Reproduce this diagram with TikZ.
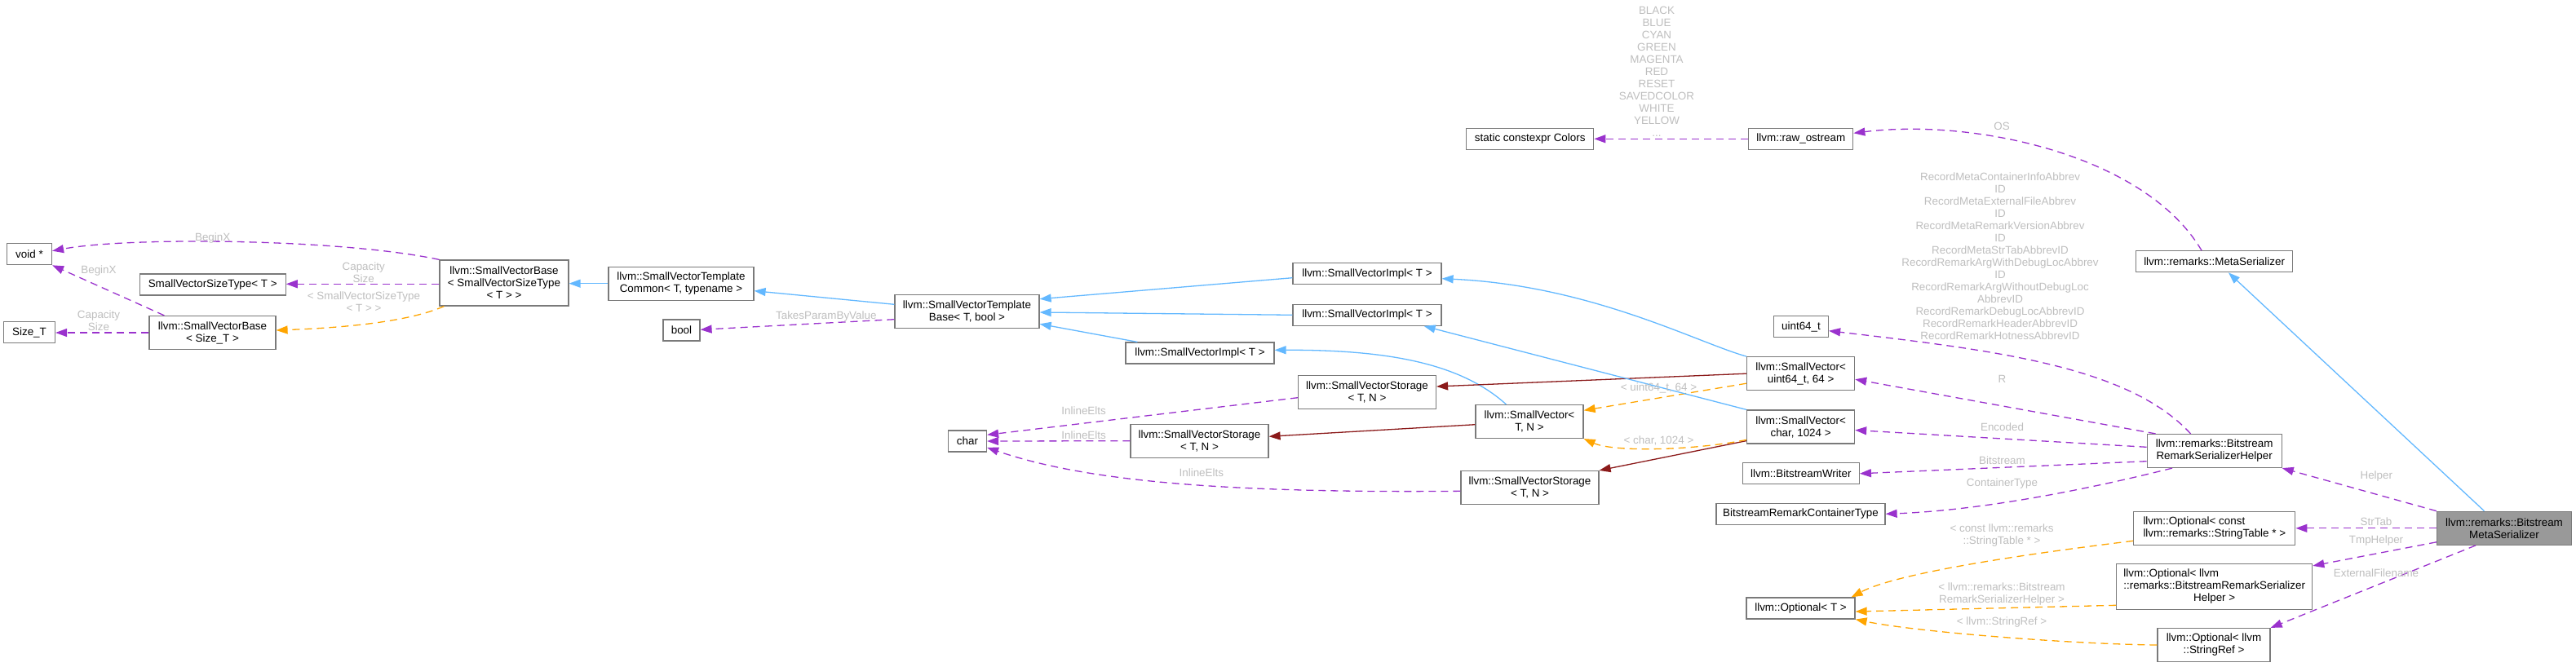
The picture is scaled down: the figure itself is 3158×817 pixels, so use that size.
\documentclass[tikz,border=0pt]{standalone}
\usepackage{fontspec}
\setmainfont{Liberation Sans}
\usetikzlibrary{arrows.meta,calc}
\definecolor{inhc}{HTML}{63B8FF}
\definecolor{usec}{HTML}{9A32CD}
\definecolor{tplc}{HTML}{FFA500}
\definecolor{prvc}{HTML}{8B1A1A}
\definecolor{lblc}{HTML}{BEBEBE}
\definecolor{bordc}{HTML}{7A7A7A}
\definecolor{mainf}{HTML}{999999}
\begin{document}
\begin{tikzpicture}[x=1pt,y=-1pt,
  box/.style={draw=bordc, line width=1.2pt, fill=white, inner sep=0pt, align=center, font=\fontsize{13.4}{15}\selectfont},
  lbl/.style={text=lblc, inner sep=0pt, align=center, font=\fontsize{13.4}{15}\selectfont},
  arrowhd/.style={-{Triangle[length=14pt,width=10pt]}},
  einh/.style={draw=inhc, line width=1.3pt, arrowhd},
  euse/.style={draw=usec, line width=1.3pt, dash pattern=on 9pt off 6pt, arrowhd},
  etpl/.style={draw=tplc, line width=1.3pt, dash pattern=on 9pt off 6pt, arrowhd},
  eprv/.style={draw=prvc, line width=1.3pt, arrowhd}]
\useasboundingbox (0,0) rectangle (3158,817);

% nodes
\node[box, minimum width=55pt, minimum height=26pt] (void) at (36,311.7) {void *};
\node[box, minimum width=179pt, minimum height=26pt] (svst) at (260.7,349) {SmallVectorSizeType< T >};
\node[box, minimum width=63pt, minimum height=26pt] (sizet) at (36,407.5) {Size\_T};
\node[box, minimum width=155pt, minimum height=41pt] (svbS) at (260.5,408) {llvm::SmallVectorBase\\< Size\_T >};
\node[box, minimum width=158pt, minimum height=56pt] (svbV) at (618,347) {llvm::SmallVectorBase\\< SmallVectorSizeType\\< T > >};
\node[box, minimum width=178pt, minimum height=41pt] (svtc) at (835,347.7) {llvm::SmallVectorTemplate\\Common< T, typename >};
\node[box, minimum width=45pt, minimum height=26pt] (bool) at (835.5,405) {bool};
\node[box, minimum width=177pt, minimum height=41pt] (svtb) at (1185.5,382) {llvm::SmallVectorTemplate\\Base< T, bool >};
\node[box, minimum width=182pt, minimum height=26pt] (implA) at (1676,335.7) {llvm::SmallVectorImpl< T >};
\node[box, minimum width=182pt, minimum height=26pt] (implB) at (1676,386.3) {llvm::SmallVectorImpl< T >};
\node[box, minimum width=182pt, minimum height=26pt] (implC) at (1471,433) {llvm::SmallVectorImpl< T >};
\node[box, minimum width=169pt, minimum height=41pt] (stor1) at (1676,481) {llvm::SmallVectorStorage\\< T, N >};
\node[box, minimum width=47pt, minimum height=26pt] (char) at (1186,541) {char};
\node[box, minimum width=169pt, minimum height=41pt] (stor2) at (1470.5,540.7) {llvm::SmallVectorStorage\\< T, N >};
\node[box, minimum width=169pt, minimum height=41pt] (stor3) at (1875.5,598) {llvm::SmallVectorStorage\\< T, N >};
\node[box, minimum width=132pt, minimum height=41pt] (svTN) at (1875,517) {llvm::SmallVector<\\T, N >};
\node[box, minimum width=132pt, minimum height=41pt] (sv64) at (2207.6,458.2) {llvm::SmallVector<\\uint64\_t, 64 >};
\node[box, minimum width=132pt, minimum height=41pt] (sv1024) at (2207.6,523.5) {llvm::SmallVector<\\char, 1024 >};
\node[box, minimum width=156pt, minimum height=26pt] (colors) at (1875.7,170.3) {static constexpr Colors};
\node[box, minimum width=128pt, minimum height=26pt] (rawos) at (2207.8,170.3) {llvm::raw\_ostream};
\node[box, minimum width=67pt, minimum height=26pt] (uint64) at (2208,400.7) {uint64\_t};
\node[box, minimum width=143pt, minimum height=26pt] (bw) at (2207.8,580.8) {llvm::BitstreamWriter};
\node[box, minimum width=207pt, minimum height=26pt] (brct) at (2207.5,630.3) {BitstreamRemarkContainerType};
\node[box, minimum width=192pt, minimum height=26pt] (meta) at (2714.6,320.8) {llvm::remarks::MetaSerializer};
\node[box, minimum width=165pt, minimum height=41pt] (brsh) at (2714.6,553) {llvm::remarks::Bitstream\\RemarkSerializerHelper};
\node[box, minimum width=198pt, minimum height=41pt, align=left] (optST) at (2714.8,647.8) {llvm::Optional< const\\ llvm::remarks::StringTable * >};
\node[box, fill=mainf, minimum width=165pt, minimum height=41pt] (bms) at (3070,647.8) {llvm::remarks::Bitstream\\MetaSerializer};
\node[box, minimum width=240pt, minimum height=56pt] (optBRSH) at (2714.7,719.5) {\rlap{llvm::Optional< llvm}\phantom{::remarks::BitstreamRemarkSerializer}\\::remarks::BitstreamRemarkSerializer\\Helper >};
\node[box, minimum width=133pt, minimum height=26pt] (optT) at (2207.5,746) {llvm::Optional< T >};
\node[box, minimum width=138pt, minimum height=41pt] (optSR) at (2714,791) {llvm::Optional< llvm\\::StringRef >};

% edges
\draw[euse] (svbV.north west) .. controls (420,293) and (160,290) .. ($(void.east)+(0,-4)$);
\draw[euse] ($(svbV.west)+(0,1.3)$) -- ($(svst.east)+(0,-0.7)$);
\draw[etpl] ($(svbV.south west)+(6,0)$) .. controls (500,395) and (420,402) .. ($(svbS.east)+(0,-3)$);
\draw[euse] ($(svbS.north west)+(19,0)$) -- (void.south east);
\draw[euse] (svbS.west) -- ($(sizet.east)+(0,0.5)$);
\draw[einh] (svtc.west) -- ($(svbV.east)+(0,0.7)$);
\draw[einh] ($(svtb.west)+(0,-8.7)$) -- ($(svtc.east)+(0,9)$);
\draw[euse] ($(svtb.west)+(0,9.7)$) -- ($(bool.east)+(0,-0.7)$);
\draw[einh] ($(implA.west)+(0,5)$) -- ($(svtb.east)+(0,-15.3)$);
\draw[einh] (implB.west) -- ($(svtb.east)+(0,1)$);
\draw[einh] ($(implC.north west)+(15,0)$) -- ($(svtb.east)+(0,15.3)$);
\draw[euse] ($(stor1.west)+(0,6.7)$) -- ($(char.east)+(0,-7.7)$);
\draw[euse] (stor2.west) -- (char.east);
\draw[euse] ($(stor3.west)+(0,4.3)$) .. controls (1500,605) and (1330,590) .. ($(char.south east)+(0,-5.7)$);
\draw[einh] ($(svTN.north west)+(38,0)$) .. controls (1790,445) and (1700,429) .. ($(implC.east)+(0,-3.7)$);
\draw[eprv] ($(svTN.west)+(0,3.7)$) -- ($(stor2.east)+(0,-5.4)$);
\draw[einh] (sv64.north west) .. controls (2080,420) and (1950,350) .. ($(implA.east)+(0,6)$);
\draw[eprv] (sv64.west) -- ($(stor1.east)+(0,-7)$);
\draw[etpl] ($(sv64.west)+(0,12)$) -- ($(svTN.east)+(0,-13.7)$);
\draw[einh] (sv1024.north west) -- ($(implB.south east)+(-22,0)$);
\draw[eprv] ($(sv1024.south west)+(0,-4)$) -- (stor3.north east);
\draw[etpl] ($(sv1024.west)+(0,15.8)$) .. controls (2080,552) and (1980,555) .. (svTN.south east);
\draw[euse] (rawos.west) -- (colors.east);
\draw[euse] ($(meta.north)+(-15.6,0)$) .. controls (2630,190) and (2420,145) .. ($(rawos.east)+(0,-7)$);
\draw[einh] ($(bms.north)+(-24.5,0)$) -- ($(meta.south)+(17.4,0)$);
\draw[euse] ($(brsh.north)+(-29,0)$) .. controls (2610,450) and (2450,430) .. ($(uint64.east)+(0,5)$);
\draw[euse] ($(brsh.north west)+(11,0)$) -- ($(sv64.east)+(0,7)$);
\draw[euse] ($(brsh.west)+(0,-4.7)$) -- ($(sv1024.east)+(0,4)$);
\draw[euse] ($(brsh.west)+(0,12.7)$) -- (bw.east);
\draw[euse] ($(brsh.south)+(-51.6,0)$) .. controls (2600,590) and (2450,625) .. (brct.east);
\draw[euse] (bms.north west) -- (brsh.south east);
\draw[euse] (bms.west) -- (optST.east);
\draw[euse] ($(bms.west)+(0,17)$) -- ($(optBRSH.north east)+(0,3)$);
\draw[euse] ($(bms.south)+(-35,0)$) -- (optSR.north east);
\draw[etpl] ($(optST.west)+(0,15.5)$) .. controls (2520,675) and (2330,700) .. ($(optT.north east)+(-5,0)$);
\draw[etpl] ($(optBRSH.west)+(0,22.8)$) -- ($(optT.east)+(0,4)$);
\draw[etpl] (optSR.west) .. controls (2540,790) and (2350,775) .. (optT.south east);

% labels
\node[lbl] (lbx1) at (260.7,291.7) {BeginX};
\node[lbl] (lcap1) at (445.7,334) {Capacity\\Size};
\node[lbl] (lsvst) at (446,370) {< SmallVectorSizeType\\< T > >};
\node[lbl] (lbx2) at (121,331.7) {BeginX};
\node[lbl] (lcap2) at (121,393) {Capacity\\Size};
\node[lbl] (ltpbv) at (1012.8,387.7) {TakesParamByValue};
\node[lbl] (lie1) at (1328.6,504) {InlineElts};
\node[lbl] (lie2) at (1328.6,533.3) {InlineElts};
\node[lbl] (lie3) at (1472.8,580) {InlineElts};
\node[lbl] (lu64) at (2033.5,475.7) {< uint64\_t, 64 >};
\node[lbl] (lc1024) at (2033.5,540) {< char, 1024 >};
\node[lbl] (lcolors) at (2031,88.3) {BLACK\\BLUE\\CYAN\\GREEN\\MAGENTA\\RED\\RESET\\SAVEDCOLOR\\WHITE\\YELLOW\\...};
\node[lbl] (los) at (2454,155) {OS};
\node[lbl] (labbrev) at (2452,314) {RecordMetaContainerInfoAbbrev\\ID\\RecordMetaExternalFileAbbrev\\ID\\RecordMetaRemarkVersionAbbrev\\ID\\RecordMetaStrTabAbbrevID\\RecordRemarkArgWithDebugLocAbbrev\\ID\\RecordRemarkArgWithoutDebugLoc\\AbbrevID\\RecordRemarkDebugLocAbbrevID\\RecordRemarkHeaderAbbrevID\\RecordRemarkHotnessAbbrevID};
\node[lbl] (lR) at (2454.5,465) {R};
\node[lbl] (lenc) at (2454.5,523.3) {Encoded};
\node[lbl] (lbs) at (2454.5,565) {Bitstream};
\node[lbl] (lct) at (2454.5,593.3) {ContainerType};
\node[lbl] (lhelper) at (2913.3,584.3) {Helper};
\node[lbl] (lstrtab) at (2913,640) {StrTab};
\node[lbl] (ltmph) at (2913,663.3) {TmpHelper};
\node[lbl] (lextf) at (2913,702.3) {ExternalFilename};
\node[lbl] (loptst) at (2454,657) {< const llvm::remarks\\::StringTable * >};
\node[lbl] (loptbrsh) at (2454,729) {< llvm::remarks::Bitstream\\RemarkSerializerHelper >};
\node[lbl] (loptsr) at (2454,763.3) {< llvm::StringRef >};
\end{tikzpicture}
\end{document}
